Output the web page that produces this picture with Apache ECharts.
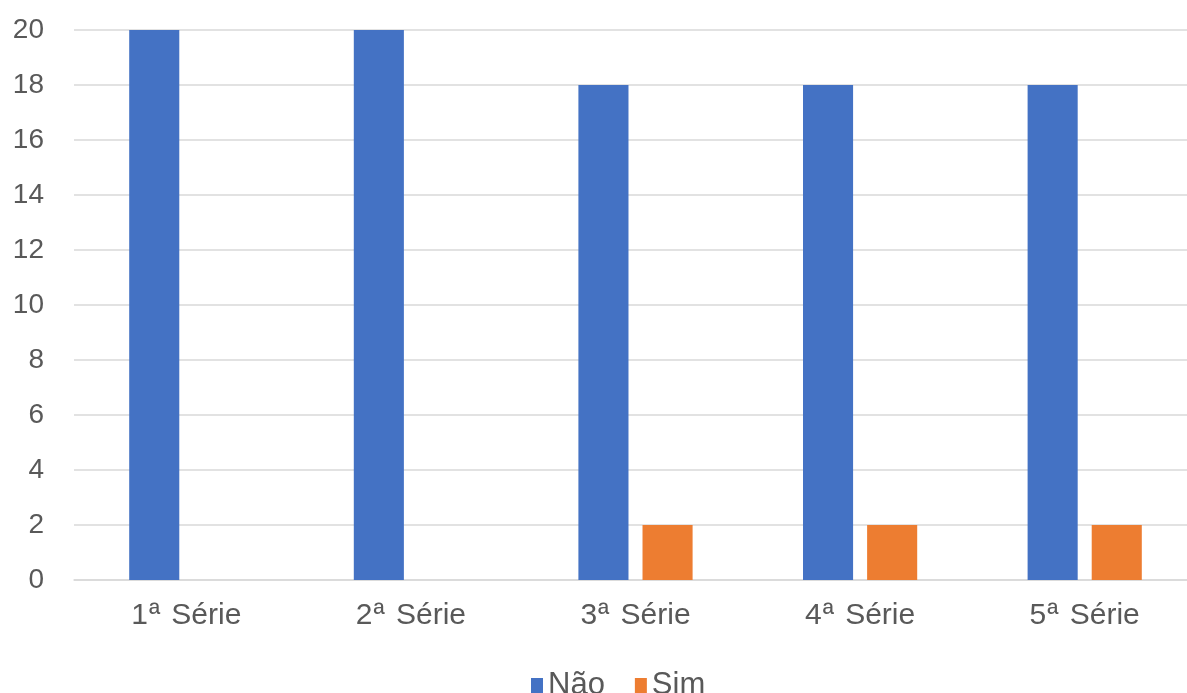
<!DOCTYPE html>
<html>
<head>
<meta charset="utf-8">
<script src="https://cdn.jsdelivr.net/npm/echarts@6/dist/echarts.min.js"></script>
<style>
html,body{margin:0;padding:0;background:#fff;overflow:hidden;width:1187px;height:693px;}
#chart{width:1200px;height:693px;}
</style>
</head>
<body>
<div id="chart"></div>
<script>
const categories = ['1ª Série', '2ª Série', '3ª Série', '4ª Série', '5ª Série'];
const seriesNames = ['Não', 'Sim'];
const naoValues = [20, 20, 18, 18, 18];
const simValues = [0, 0, 2, 2, 2];
const yTicks = { min: 0, max: 20, interval: 2 };

const chart = echarts.init(document.getElementById('chart'));
const font = 'Liberation Sans, Arial, sans-serif';
chart.setOption({
  animation: false,
  backgroundColor: '#ffffff',
  grid: { left: 74, right: 3, top: 30, bottom: 113, containLabel: false },
  legend: {
    data: seriesNames,
    left: 531,
    top: 670,
    padding: 0,
    itemWidth: 12,
    itemHeight: 15,
    itemGap: 30,
    icon: 'rect',
    textStyle: { fontFamily: font, fontSize: 31, color: '#595959' }
  },
  xAxis: {
    type: 'category',
    data: categories,
    axisLine: { show: true, lineStyle: { color: '#d9d9d9', width: 1.5 } },
    axisTick: { show: false },
    axisLabel: {
      interval: 0,
      fontFamily: font, fontSize: 30, color: '#595959', margin: 21,
      formatter: function (v) {
        const i = v.indexOf('ª');
        return '{n|' + v.slice(0, i) + '}{o|ª}{t|' + v.slice(i + 1) + '}';
      },
      rich: {
        n: { fontFamily: font, fontSize: 30, color: '#595959' },
        o: { fontFamily: font, fontSize: 30, color: '#595959', padding: [0, 3, 0, 1] },
        t: { fontFamily: font, fontSize: 30, color: '#595959' }
      }
    }
  },
  yAxis: {
    type: 'value',
    min: yTicks.min,
    max: yTicks.max,
    interval: yTicks.interval,
    axisLine: { show: false },
    axisTick: { show: false },
    splitLine: { lineStyle: { color: '#d9d9d9', width: 1.5 } },
    axisLabel: { fontFamily: font, fontSize: 28, color: '#595959', margin: 30 }
  },
  series: [
    { name: seriesNames[0], type: 'bar', data: naoValues, barWidth: '22.3%', barGap: '28%', itemStyle: { color: '#4472C4' } },
    { name: seriesNames[1], type: 'bar', data: simValues, barWidth: '22.3%', barGap: '28%', itemStyle: { color: '#ED7D31' } }
  ]
});
</script>
</body>
</html>
